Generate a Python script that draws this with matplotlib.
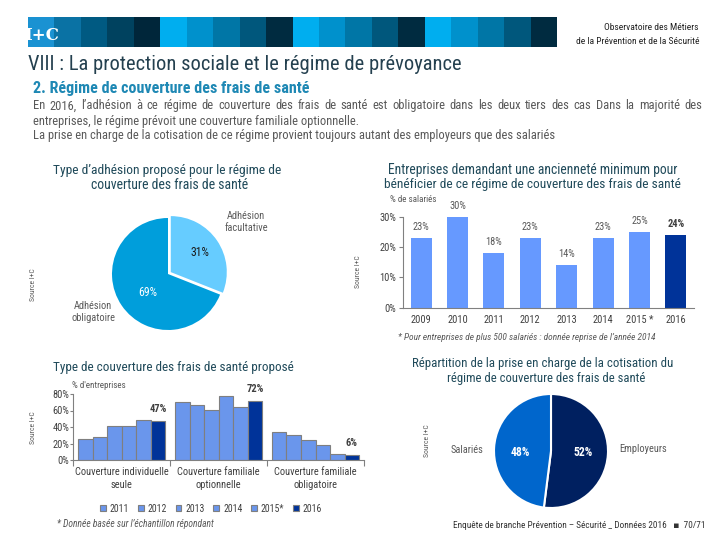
import matplotlib
matplotlib.use('Agg')
import matplotlib.pyplot as plt
from matplotlib import font_manager
from matplotlib.patches import Rectangle
import numpy as np

# ---------------- data ----------------
adhesion_labels = ['Adhésion\nfacultative', 'Adhésion\nobligatoire']
adhesion_values = [31, 69]

anc_years = ['2009', '2010', '2011', '2012', '2013', '2014', '2015 *', '2016']
anc_values = [23, 30, 18, 23, 14, 23, 25, 24]

couv_categories = ['Couverture individuelle\nseule', 'Couverture familiale\noptionnelle',
                   'Couverture familiale\nobligatoire']
couv_years = ['2011', '2012', '2013', '2014', '2015*', '2016']
couv_2011 = [25, 70, 34]
couv_2012 = [28, 67, 30]
couv_2013 = [41, 61, 24]
couv_2014 = [41, 78, 18]
couv_2015 = [49, 64, 7]
couv_2016 = [47, 72, 6]
couv_series = [couv_2011, couv_2012, couv_2013, couv_2014, couv_2015, couv_2016]

cotis_labels = ['Employeurs', 'Salariés']
cotis_values = [52, 48]

# ---------------- setup ----------------
W, H = 720, 540
avail = {f.name for f in font_manager.fontManager.ttflist}
FONT = 'DejaVu Sans'
for cand in ['Liberation Sans Narrow', 'Roboto Condensed', 'Open Sans Condensed', 'Lato']:
    if cand in avail:
        FONT = cand
        break
plt.rcParams['font.family'] = [FONT, 'DejaVu Sans']

fig = plt.figure(figsize=(7.2, 5.4), dpi=100)
fig.patch.set_facecolor('white')
R = fig.canvas.get_renderer()

GRAY = '#595959'
DARK = '#404040'
TEAL = '#204A5A'


def ftext(x, y, s, **kw):
    kw.setdefault('va', 'center')
    return fig.text(x / W, 1 - y / H, s, **kw)


def fit(t, width):
    w = t.get_window_extent(R).width
    t.set_fontsize(t.get_fontsize() * width / w)
    return t


def justify(words, x0, x1, y, size, color):
    ts = [ftext(0, y, w, fontsize=size, color=color, ha='left', va='baseline') for w in words]
    widths = [t.get_window_extent(R).width for t in ts]
    gap = (x1 - x0 - sum(widths)) / (len(words) - 1)
    x = x0
    for t, w in zip(ts, widths):
        t.set_x(x / W)
        x += w + gap


# ---------------- header ----------------
x0, bw = 28, 26.45
period0 = ['#1A92D2', '#0A72A4', '#005A82', '#00425F', '#00263A']
period = ['#00AEEF', '#0091CC', '#0076A6', '#00577C', '#002B40']
cols = period0 + period * 3
for i, c in enumerate(cols):
    fig.add_artist(Rectangle(((x0 + i * bw) / W, 1 - 47 / H), bw / W + 0.0005, 30 / H,
                             transform=fig.transFigure, facecolor=c, edgecolor='none'))
ftext(41.5, 35, 'I+C', fontsize=12, color='white', ha='center', family='DejaVu Serif',
      fontweight='bold')
ftext(699, 27, 'Observatoire des Métiers', fontsize=6.8, color='#222222', ha='right')
ftext(699, 41, 'de la Prévention et de la Sécurité', fontsize=6.8, color='#222222', ha='right')

# ---------------- titles & paragraph ----------------
fit(ftext(28, 64, 'VIII : La protection sociale et le régime de prévoyance', fontsize=14,
          color='#24404F', ha='left'), 435)
fit(ftext(33, 88, '2. Régime de couverture des frais de santé', fontsize=10, color='#1E88B4',
          ha='left', fontweight='bold'), 278)
t2 = fit(ftext(33, 124.5, 'entreprises, le régime prévoit une couverture familiale optionnelle.',
               fontsize=7.5, color=GRAY, ha='left', va='baseline'), 330)
t3 = fit(ftext(33, 139.5, 'La prise en charge de la cotisation de ce régime provient toujours '
               'autant des employeurs que des salariés', fontsize=7.5, color=GRAY, ha='left',
               va='baseline'), 517)
psize = 0.5 * (t2.get_fontsize() + t3.get_fontsize())
t2.set_fontsize(psize)
t3.set_fontsize(psize)
justify('En 2016, l’adhésion à ce régime de couverture des frais de santé est obligatoire '
        'dans les deux tiers des cas  Dans la majorité des'.split(), 33, 702, 109.5, psize, GRAY)

# ---------------- panel 1 : pie adhesion ----------------
cx, cy, r, Rb = 168, 274, 56, 75
ax1 = fig.add_axes([(cx - Rb) / W, 1 - (cy + Rb) / H, 2 * Rb / W, 2 * Rb / H])
ax1.pie(adhesion_values, startangle=90, counterclock=False, explode=[0.06, 0],
        colors=['#66CCFF', '#009EDB'], radius=1, wedgeprops=dict(linewidth=0))
ax1.set_xlim(-Rb / r, Rb / r)
ax1.set_ylim(-Rb / r, Rb / r)
ax1.axis('off')
ftext(200, 252, f'{adhesion_values[0]}%', fontsize=8.5, color='#1a1a1a', ha='center')
ftext(148, 292, f'{adhesion_values[1]}%', fontsize=8.5, color='white', ha='center')
ftext(246, 222, adhesion_labels[0], fontsize=7.5, color=GRAY, ha='center', linespacing=1.3)
ftext(93, 312, adhesion_labels[1], fontsize=7.5, color=GRAY, ha='center', linespacing=1.3)
fit(ftext(167.5, 170, 'Type d’adhésion proposé pour le régime de', fontsize=9, color=TEAL,
          ha='center'), 229)
fit(ftext(170, 185, 'couverture des frais de santé', fontsize=9, color=TEAL, ha='center'), 158)

# ---------------- panel 2 : bars anciennete ----------------
ax2 = fig.add_axes([403 / W, 1 - 307.7 / H, 291 / W, 91 / H])
xs = np.arange(len(anc_years))
bcols = ['#6699FF'] * (len(anc_years) - 1) + ['#003399']
ax2.bar(xs, anc_values, width=0.58, color=bcols, linewidth=0)
ax2.set_xlim(-0.5, len(anc_years) - 0.5)
ax2.set_ylim(0, 30)
for s in ['top', 'right']:
    ax2.spines[s].set_visible(False)
for s in ['left', 'bottom']:
    ax2.spines[s].set_color('#808080')
    ax2.spines[s].set_linewidth(0.8)
ax2.set_yticks([0, 10, 20, 30])
ax2.set_yticklabels([f'{v}%' for v in [0, 10, 20, 30]])
ax2.set_xticks(xs)
ax2.set_xticklabels(anc_years)
ax2.tick_params(axis='y', length=3, width=0.8, color='#808080', labelsize=7.5, labelcolor=DARK, pad=2)
ax2.tick_params(axis='x', length=0, labelsize=7.5, labelcolor=DARK, pad=5)
for i, (xi, v) in enumerate(zip(xs, anc_values)):
    last = i == len(anc_values) - 1
    ax2.annotate(f'{v}%', (xi, v), xytext=(0, 11), textcoords='offset pixels', ha='center',
                 va='center', fontsize=7.5, color=DARK if last else GRAY,
                 fontweight='bold' if last else 'normal', annotation_clip=False)
ftext(390, 200, '% de salariés', fontsize=6.5, color=GRAY, ha='left')
fit(ftext(533, 170, 'Entreprises demandant une ancienneté minimum pour', fontsize=9, color=TEAL,
          ha='center'), 290)
fit(ftext(532, 184.5, 'bénéficier de ce régime de couverture des frais de santé', fontsize=9,
          color=TEAL, ha='center'), 296)
fit(ftext(398, 337, '* Pour entreprises de plus 500 salariés : donnée reprise de l’année 2014',
          fontsize=5.5, color=GRAY, ha='left', style='italic'), 259)

# ---------------- panel 3 : grouped bars ----------------
ax3 = fig.add_axes([73.3 / W, 1 - 460 / H, 290.7 / W, 66 / H])
gx = np.arange(len(couv_categories))
bwid = 0.15
n = len(couv_years)
for j, (yr, vals) in enumerate(zip(couv_years, couv_series)):
    col = '#003399' if j == n - 1 else '#6A96EC'
    bars = ax3.bar(gx + (j - (n - 1) / 2) * bwid, vals, width=bwid, color=col,
                   edgecolor='#7F7F7F', linewidth=0.8, label=yr)
    if j == n - 1:
        for b, v in zip(bars, vals):
            ax3.annotate(f'{v}%', (b.get_x() + b.get_width() / 2, v), xytext=(0, 12),
                         textcoords='offset pixels', ha='center', va='center', fontsize=7.5,
                         color=DARK, fontweight='bold', annotation_clip=False)
ax3.set_xlim(-0.5, len(couv_categories) - 0.5)
ax3.set_ylim(0, 80)
for s in ['top', 'right']:
    ax3.spines[s].set_visible(False)
for s in ['left', 'bottom']:
    ax3.spines[s].set_color('#808080')
    ax3.spines[s].set_linewidth(0.8)
ax3.set_yticks([0, 20, 40, 60, 80])
ax3.set_yticklabels([f'{v}%' for v in [0, 20, 40, 60, 80]])
ax3.set_xticks(gx)
ax3.set_xticklabels(couv_categories, linespacing=1.35)
ax3.set_xticks(np.arange(-0.5, len(couv_categories)), minor=True)
ax3.tick_params(axis='y', length=2, width=0.8, color='#808080', labelsize=7.5, labelcolor=DARK, pad=1)
ax3.tick_params(axis='x', which='major', length=0, labelsize=7.5, labelcolor=DARK, pad=5)
ax3.tick_params(axis='x', which='minor', length=4, width=0.8, color='#808080')
ftext(72, 386, '% d\'entreprises', fontsize=6.5, color=GRAY, ha='left')
h, l = ax3.get_legend_handles_labels()
fig.legend(h, l, ncol=6, loc='center', bbox_to_anchor=(211 / W, 1 - 508.7 / H), frameon=False,
           fontsize=7, handlelength=0.6, handleheight=0.6, handletextpad=0.4, columnspacing=0.9,
           labelcolor=DARK)
fit(ftext(53, 367, 'Type de couverture des frais de santé proposé', fontsize=9, color=TEAL,
          ha='left'), 243)
fit(ftext(57, 524, '* Donnée basée sur l’échantillon répondant', fontsize=5.5, color=GRAY,
          ha='left', style='italic'), 158)

# ---------------- panel 4 : pie cotisation ----------------
cx, cy, r, Rb = 551, 451, 57, 75
ax4 = fig.add_axes([(cx - Rb) / W, 1 - (cy + Rb) / H, 2 * Rb / W, 2 * Rb / H])
ax4.pie(cotis_values, startangle=90, counterclock=False, colors=['#002060', '#0066CC'],
        radius=1, wedgeprops=dict(edgecolor='white', linewidth=1.5))
ax4.set_xlim(-Rb / r, Rb / r)
ax4.set_ylim(-Rb / r, Rb / r)
ax4.axis('off')
ftext(583, 453, f'{cotis_values[0]}%', fontsize=8.5, color='white', ha='center', fontweight='bold')
ftext(520, 452, f'{cotis_values[1]}%', fontsize=8.5, color='white', ha='center', fontweight='bold')
ftext(643, 449, cotis_labels[0], fontsize=7.5, color=GRAY, ha='center')
ftext(467, 450, cotis_labels[1], fontsize=7.5, color=GRAY, ha='center')
fit(ftext(543, 363.5, 'Répartition de la prise en charge de la cotisation du', fontsize=9,
          color=TEAL, ha='center'), 263)
fit(ftext(546, 378.5, 'régime de couverture des frais de santé', fontsize=9, color=TEAL,
          ha='center'), 198)
fit(ftext(453, 526, 'Enquête de branche Prévention – Sécurité _ Données 2016   ▪  70/71',
          fontsize=6, color='#333333', ha='left'), 250)

# ---------------- source labels ----------------
for (sx, sy) in [(33, 285), (358, 272), (33, 428), (427, 441)]:
    ftext(sx, sy, 'Source I+C', fontsize=5.5, color=GRAY, ha='center', rotation=90)

fig.savefig('out.png', dpi=100, facecolor='white')
